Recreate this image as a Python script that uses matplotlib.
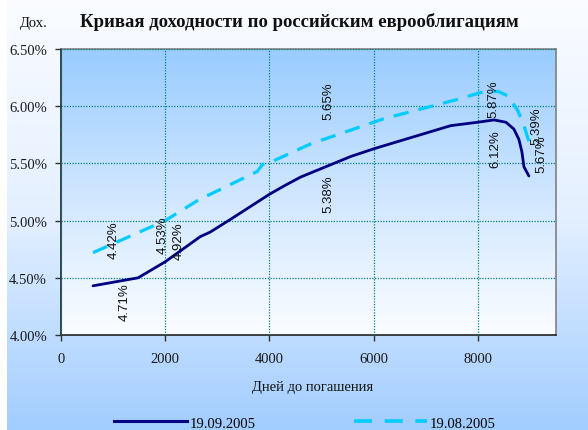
import numpy as np
import matplotlib
matplotlib.use("Agg")
import matplotlib.pyplot as plt
from matplotlib.colors import LinearSegmentedColormap
from matplotlib.lines import Line2D

# ---- data ----
title = "Кривая доходности по российским еврооблигациям"
ylabel_txt = "Дох."
xlabel_txt = "Дней до погашения"
series1_name = "19.09.2005"
series2_name = "19.08.2005"

days_sep = [615, 1480, 2000, 2673, 2865, 3250, 4000, 4269, 4596, 5558, 6019, 7480, 8000,
            8308, 8538, 8692, 8788, 8846, 8885, 8980]
yield_sep = [4.43, 4.50, 4.64, 4.86, 4.90, 5.01, 5.23, 5.30, 5.38, 5.56, 5.63, 5.83, 5.86,
             5.88, 5.86, 5.80, 5.71, 5.60, 5.47, 5.39]

days_aug = [615, 2000, 2673, 2865, 3769, 3865, 4019, 4692, 4788, 6192, 7615, 8058, 8385,
            8577, 8769, 8885, 8981]
yield_aug = [4.72, 5.00, 5.19, 5.23, 5.43, 5.49, 5.51, 5.65, 5.67, 5.89, 6.06, 6.12, 6.13,
             6.09, 5.96, 5.83, 5.69]

# data labels (text, x in days, y in %)
label_texts = ["4.42%", "4.71%", "4.53%", "4.92%", "5.65%", "5.38%", "6.12%", "5.87%", "5.39%", "5.67%"]
label_x = [1010, 1230, 1960, 2250, 5140, 5140, 8340, 8300, 9130, 9220]
label_y = [4.84, 4.30, 4.88, 4.83, 6.05, 5.24, 5.63, 6.07, 5.83, 5.59]

x_ticks = [0, 2000, 4000, 6000, 8000]
y_ticks = [4.0, 4.5, 5.0, 5.5, 6.0, 6.5]

# ---- figure ----
W, H = 588, 431
fig = plt.figure(figsize=(W / 100, H / 100), dpi=100)

# figure background gradient
bg = fig.add_axes([0, 0, 1, 1], zorder=-10)
bg_cmap = LinearSegmentedColormap.from_list("bg", ["#FAFCFF", "#E4F0FF", "#A2CDFF"])
grad = np.linspace(0, 1, 256).reshape(-1, 1)
bg.imshow(grad, cmap=bg_cmap, aspect="auto", extent=[0.012, 1, 1, 0])
bg.set_xlim(0, 1)
bg.set_ylim(1, 0)
bg.axis("off")

left, right, top, bottom = 61, 556, 50, 336
ax = fig.add_axes([left / W, 1 - bottom / H, (right - left) / W, (bottom - top) / H])
ax.set_xlim(0, 9500)
ax.set_ylim(4.0, 6.5)

pa_cmap = LinearSegmentedColormap.from_list("pa", ["#99CCFF", "#CFE6FF", "#FBFDFF"])
ax.imshow(grad, cmap=pa_cmap, aspect="auto", extent=[0, 9500, 4.0, 6.5],
          origin="upper", zorder=0)

ax.set_xticks(x_ticks)
ax.set_yticks(y_ticks)
ax.set_xticklabels([str(t) for t in x_ticks])
ax.set_yticklabels([f"{t:.2f}%" for t in y_ticks])
ax.grid(True, color="#008080", linestyle=(0, (1, 1.2)), linewidth=0.9, zorder=1)
ax.set_axisbelow(False)

for t in ax.get_xticklabels() + ax.get_yticklabels():
    t.set_fontfamily("Liberation Serif")
    t.set_fontsize(10.5)
    t.set_color("#1a1a1a")
ax.tick_params(axis="both", direction="out", length=4, width=1, color="#333333", pad=6)
ax.tick_params(axis="x", pad=8)

ax.spines["left"].set_color("#222222")
ax.spines["bottom"].set_color("#222222")
ax.spines["top"].set_color("#808080")
ax.spines["right"].set_color("#808080")
for s in ax.spines.values():
    s.set_linewidth(1.2)

ax.plot(days_sep, yield_sep, color="#000080", linewidth=2.0, solid_capstyle="round",
        zorder=3, clip_on=False)
ax.plot(days_aug, yield_aug, color="#00CCFF", linewidth=2.3, dashes=(4.8, 3.2),
        zorder=3, clip_on=False)

for txt, xx, yy in zip(label_texts, label_x, label_y):
    ax.text(xx, yy, txt, rotation=90, ha="center", va="center",
            fontfamily="Liberation Sans", fontsize=9.5, color="#111111", zorder=4)

fig.text(80 / W, 1 - 22 / H, title, fontfamily="Liberation Serif", fontweight="bold",
         fontsize=13.5, ha="left", va="center", color="#111111")
fig.text(20 / W, 1 - 23 / H, ylabel_txt, fontfamily="Liberation Serif",
         fontsize=10.5, ha="left", va="center", color="#111111")
fig.text(313 / W, 1 - 388 / H, xlabel_txt, fontfamily="Liberation Serif",
         fontsize=10.5, ha="center", va="center", color="#111111")

h1 = Line2D([], [], color="#000080", linewidth=2.2)
h2 = Line2D([], [], color="#00CCFF", linewidth=2.6, dashes=(5, 3.5))
leg = fig.legend([h1, h2], [series1_name, series2_name], loc="center",
                 bbox_to_anchor=(305 / W, 1 - 424 / H), ncol=2, frameon=False,
                 handlelength=5.0, handletextpad=0.2, columnspacing=6.7,
                 prop={"family": "Liberation Serif", "size": 10.5})

fig.savefig("out.png", dpi=100)
